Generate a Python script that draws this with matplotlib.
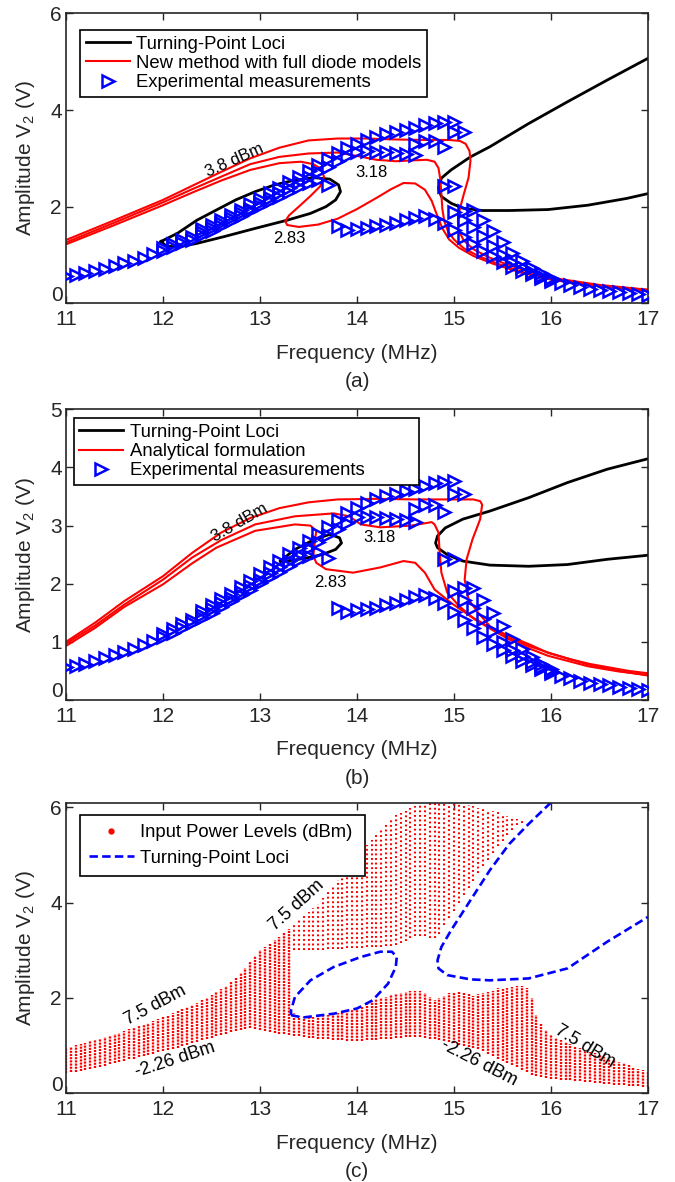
import numpy as np
import matplotlib
matplotlib.use("Agg")
import matplotlib.pyplot as plt
from matplotlib.lines import Line2D

plt.rcParams["font.family"] = ["Liberation Sans", "DejaVu Sans"]
plt.rcParams["mathtext.fontset"] = "custom"
plt.rcParams["mathtext.rm"] = "Liberation Sans"
plt.rcParams["mathtext.default"] = "regular"

RED = "#ff0000"
BLUE = "#0000ff"
INK = "#262626"

# ---- experimental measurements (shared by (a) and (b)), 0.1 MHz sweep grid ----
exp_a_f = np.round(np.arange(11.0, 13.75, 0.1), 2)
exp_a_v = [0.56, 0.58, 0.62, 0.67, 0.72, 0.77, 0.83, 0.88, 0.94, 1.01, 1.09, 1.16, 1.24, 1.32,
           1.41, 1.50, 1.60, 1.70, 1.80, 1.90, 2.01, 2.11, 2.21, 2.31, 2.40, 2.48, 2.55, 2.45]
exp_b_f = np.round(np.arange(12.0, 14.65, 0.1), 2)
exp_b_v = [1.14, 1.22, 1.30, 1.38, 1.47, 1.56, 1.66, 1.76, 1.86, 1.96, 2.07, 2.18, 2.29, 2.39,
           2.50, 2.61, 2.72, 2.83, 2.94, 3.04, 3.14, 3.15, 3.14, 3.13, 3.11, 3.09, 3.06]
exp_c_f = np.round(np.arange(12.4, 15.05, 0.1), 2)
exp_c_v = [1.53, 1.63, 1.73, 1.83, 1.94, 2.05, 2.16, 2.28, 2.39, 2.51, 2.62, 2.74, 2.86, 2.98,
           3.10, 3.21, 3.30, 3.38, 3.45, 3.51, 3.55, 3.59, 3.63, 3.68, 3.73, 3.75, 3.76]
exp_d_f = [14.6, 14.7, 14.8, 14.9, 15.0, 15.1, 14.9, 15.0]
exp_d_v = [3.29, 3.35, 3.36, 3.24, 3.55, 3.55, 2.42, 2.42]
exp_e_f = np.round(np.arange(13.8, 17.05, 0.1), 2)
exp_e_v = [1.59, 1.52, 1.54, 1.56, 1.59, 1.63, 1.67, 1.72, 1.77, 1.80, 1.75, 1.66, 1.52, 1.38,
           1.23, 1.09, 0.97, 0.86, 0.76, 0.67, 0.60, 0.53, 0.47, 0.42, 0.37, 0.33, 0.30, 0.27,
           0.25, 0.23, 0.21, 0.19, 0.18]
exp_g_f = np.round(np.arange(15.0, 16.05, 0.1), 2)
exp_g_v = [1.88, 1.92, 1.93, 1.72, 1.50, 1.27, 1.05, 0.88, 0.74, 0.62, 0.53]
exp_h_f = np.round(np.arange(15.1, 16.05, 0.1), 2)
exp_h_v = [1.72, 1.58, 1.40, 1.18, 1.00, 0.86, 0.75, 0.65, 0.57, 0.50]

# ---- (a) new method with full diode models ----
a_red38_f = [11.0, 11.5, 12.0, 12.3, 12.6, 12.9, 13.2, 13.5, 13.8, 14.1, 14.4, 14.7, 14.95, 15.06,
             15.12, 15.16, 15.17, 15.15, 15.1, 15.06, 15.04, 15.05, 15.1, 15.2, 15.35, 15.55, 15.8,
             16.1, 16.5, 17.0]
a_red38_v = [1.31, 1.72, 2.14, 2.43, 2.72, 3.0, 3.22, 3.37, 3.41, 3.41, 3.39, 3.38, 3.38, 3.36,
             3.3, 3.15, 2.95, 2.6, 2.25, 1.95, 1.7, 1.5, 1.3, 1.12, 0.96, 0.8, 0.64, 0.5, 0.38, 0.28]
a_red318_f = [11.0, 11.5, 12.0, 12.3, 12.6, 12.9, 13.2, 13.5, 13.8, 14.0, 14.2, 14.4, 14.6, 14.72,
              14.8, 14.84, 14.86, 14.87, 14.88, 14.9, 14.94, 15.0, 15.1, 15.25, 15.45, 15.7, 16.0,
              16.4, 16.8, 17.0]
a_red318_v = [1.26, 1.67, 2.09, 2.36, 2.62, 2.88, 3.03, 3.10, 3.12, 3.05, 2.97, 2.94, 2.96, 2.97,
              2.93, 2.8, 2.55, 2.25, 1.95, 1.7, 1.48, 1.32, 1.14, 0.98, 0.82, 0.65, 0.5, 0.38,
              0.31, 0.28]
a_red283_f = [11.0, 11.5, 12.0, 12.3, 12.6, 12.9, 13.2, 13.42, 13.55, 13.63, 13.66, 13.62, 13.52,
              13.4, 13.3, 13.26, 13.28, 13.4, 13.6, 13.8, 14.0, 14.2, 14.35, 14.48, 14.6, 14.7,
              14.77, 14.82, 14.88, 14.95, 15.05, 15.2, 15.4, 15.7, 16.0, 16.4, 16.8, 17.0]
a_red283_v = [1.22, 1.62, 2.03, 2.29, 2.54, 2.76, 2.9, 2.93, 2.88, 2.78, 2.62, 2.42, 2.22, 2.0,
              1.82, 1.7, 1.62, 1.58, 1.63, 1.75, 1.95, 2.18, 2.36, 2.49, 2.48, 2.35, 2.12, 1.85,
              1.55, 1.32, 1.15, 0.98, 0.82, 0.63, 0.49, 0.37, 0.3, 0.26]
a_loop_f = [11.98, 12.15, 12.35, 12.55, 12.75, 12.95, 13.15, 13.36, 13.56, 13.72, 13.81, 13.83,
            13.78, 13.68, 13.52, 13.28, 12.95, 12.63, 12.35, 12.15, 12.03, 11.98]
a_loop_v = [1.28, 1.45, 1.72, 1.93, 2.14, 2.31, 2.45, 2.55, 2.60, 2.57, 2.45, 2.31, 2.14, 2.00,
            1.86, 1.72, 1.55, 1.38, 1.24, 1.16, 1.19, 1.28]
a_fold_f = [17.0, 16.58, 16.17, 15.77, 15.37, 15.17, 14.97, 14.87, 14.84, 14.87, 14.97, 15.09,
            15.29, 15.57, 15.97, 16.38, 16.78, 17.0]
a_fold_v = [5.07, 4.62, 4.17, 3.72, 3.24, 3.03, 2.76, 2.59, 2.38, 2.21, 2.07, 1.97, 1.92, 1.92,
            1.94, 2.03, 2.17, 2.27]

# ---- (b) analytical formulation ----
b_red38_f = [11.0, 11.3, 11.6, 12.0, 12.3, 12.6, 12.9, 13.2, 13.5, 13.8, 14.2, 14.6, 15.0, 15.2,
             15.27, 15.29, 15.27, 15.19, 15.13, 15.11, 15.15, 15.25, 15.37, 15.55, 15.77, 16.0,
             16.2, 16.4, 16.6, 16.8, 17.0]
b_red38_v = [1.0, 1.33, 1.7, 2.13, 2.53, 2.88, 3.13, 3.3, 3.4, 3.45, 3.46, 3.45, 3.45, 3.45, 3.42,
             3.36, 3.11, 2.76, 2.42, 2.07, 1.73, 1.5, 1.27, 1.08, 0.93, 0.8, 0.7, 0.62, 0.56, 0.5,
             0.46]
b_red318_f = [11.0, 11.3, 11.6, 12.0, 12.3, 12.6, 12.95, 13.36, 13.76, 13.92, 14.04, 14.24, 14.56,
              14.77, 14.8, 14.84, 14.85, 14.87, 14.93, 15.05, 15.21, 15.4, 15.57, 15.8, 15.97,
              16.2, 16.38, 16.7, 17.0]
b_red318_v = [0.97, 1.28, 1.64, 2.07, 2.45, 2.75, 3.02, 3.16, 3.21, 3.16, 3.02, 2.97, 3.0, 3.06,
              3.02, 2.88, 2.59, 2.19, 1.85, 1.62, 1.39, 1.2, 1.04, 0.87, 0.76, 0.66, 0.58, 0.49,
              0.43]
b_red283_f = [11.0, 11.3, 11.6, 12.0, 12.3, 12.55, 12.95, 13.36, 13.52, 13.58, 13.56, 13.55, 13.58,
              13.68, 13.96, 14.24, 14.48, 14.6, 14.7, 14.8, 14.97, 15.17, 15.35, 15.57, 15.8,
              15.97, 16.2, 16.38, 16.7, 17.0]
b_red283_v = [0.93, 1.24, 1.6, 1.99, 2.35, 2.62, 2.91, 3.02, 3.0, 2.91, 2.65, 2.48, 2.36, 2.25,
              2.19, 2.28, 2.39, 2.36, 2.19, 1.9, 1.67, 1.44, 1.27, 1.1, 0.94, 0.81, 0.7, 0.61,
              0.5, 0.42]
b_loop_f = [13.21, 13.36, 13.56, 13.72, 13.82, 13.84, 13.78, 13.64, 13.44, 13.28, 13.21]
b_loop_v = [2.39, 2.59, 2.76, 2.85, 2.79, 2.70, 2.59, 2.50, 2.43, 2.39, 2.39]
b_fold_f = [17.0, 16.58, 16.17, 15.77, 15.37, 15.09, 14.91, 14.83, 14.81, 14.83, 14.93, 15.09,
            15.37, 15.77, 16.17, 16.58, 17.0]
b_fold_v = [4.15, 3.97, 3.74, 3.48, 3.25, 3.11, 2.96, 2.82, 2.70, 2.62, 2.50, 2.39, 2.32, 2.30,
            2.33, 2.42, 2.49]

# ---- (c) input power sweep -2.26 .. 7.5 dBm, 0.05 MHz columns ----
c_freq = np.round(np.linspace(11.0, 17.0, 121), 2)
c_low_bottom = [
    0.42, 0.44, 0.45, 0.47, 0.49, 0.51, 0.53, 0.56, 0.58, 0.61, 0.63, 0.66, 0.68, 0.71, 0.73,
    0.76, 0.78, 0.81, 0.83, 0.86, 0.88, 0.91, 0.93, 0.96, 0.99, 1.02, 1.05, 1.08, 1.11, 1.14,
    1.17, 1.20, 1.22, 1.25, 1.28, 1.31, 1.33, 1.35, 1.36, 1.35, 1.33, 1.31, 1.29, 1.27, 1.25,
    1.24, 1.22, 1.21, 1.20, 1.18, 1.17, 1.16, 1.15, 1.14, 1.13, 1.12, 1.11, 1.11, 1.10, 1.10,
    1.10, 1.10, 1.11, 1.11, 1.12, 1.13, 1.14, 1.15, 1.16, 1.17, 1.18, 1.18, 1.18, 1.18, 1.17,
    1.15, 1.13, 1.11, 1.09, 1.07, 1.05, 1.02, 0.99, 0.97, 0.95, 0.92, 0.89, 0.83, 0.78, 0.72,
    0.67, 0.63, 0.59, 0.55, 0.50, 0.45, 0.39, 0.36, 0.34, 0.32, 0.31, 0.30, 0.29, 0.28, 0.27,
    0.26, 0.25, 0.24, 0.23, 0.22, 0.21, 0.20, 0.19, 0.18, 0.17, 0.17, 0.16, 0.15, 0.15, 0.14,
    0.13]
c_low_top = [
    0.95, 0.98, 1.01, 1.04, 1.06, 1.09, 1.12, 1.15, 1.18, 1.21, 1.24, 1.27, 1.31, 1.34, 1.37,
    1.41, 1.44, 1.48, 1.52, 1.56, 1.60, 1.64, 1.68, 1.72, 1.76, 1.81, 1.85, 1.90, 1.95, 2.00,
    2.06, 2.12, 2.18, 2.25, 2.33, 2.42, 2.52, 2.63, 2.75, 2.88, 3.00, 3.07, 3.14, 3.21, 3.28,
    3.36, 3.45, 1.68, 1.62, 1.60, 1.60, 1.61, 1.62, 1.63, 1.65, 1.67, 1.69, 1.72, 1.74, 1.76,
    1.78, 1.82, 1.87, 1.93, 1.97, 2.00, 2.03, 2.06, 2.08, 2.10, 2.12, 2.14, 2.15, 2.14, 2.10,
    2.02, 1.95, 2.00, 2.05, 2.10, 2.10, 2.12, 2.10, 2.08, 2.05, 2.08, 2.10, 2.12, 2.15, 2.20,
    2.18, 2.20, 2.22, 2.25, 2.25, 2.20, 2.00, 1.65, 1.45, 1.32, 1.22, 1.17, 1.12, 1.07, 1.03,
    0.99, 0.95, 0.91, 0.87, 0.84, 0.80, 0.77, 0.73, 0.70, 0.66, 0.63, 0.60, 0.56, 0.52, 0.48,
    0.44]
c_up_freq = np.round(np.linspace(13.35, 15.75, 49), 2)
c_up_bottom = [
    3.00, 3.00, 3.00, 3.00, 3.00, 3.01, 3.01, 3.02, 3.02, 3.03, 3.03, 3.04, 3.04, 3.05, 3.05,
    3.06, 3.06, 3.07, 3.07, 3.08, 3.08, 3.12, 3.15, 3.20, 3.25, 3.30, 3.30, 3.30, 3.25, 3.25,
    3.35, 3.52, 3.67, 3.83, 3.99, 4.15, 4.30, 4.46, 4.62, 4.76, 4.90, 5.04, 5.18, 5.30, 5.41,
    5.52, 5.62, 5.66, 5.68]
c_up_top = [
    3.54, 3.63, 3.71, 3.80, 3.89, 3.98, 4.10, 4.22, 4.35, 4.47, 4.59, 4.71, 4.83, 4.95, 5.08,
    5.20, 5.32, 5.44, 5.55, 5.65, 5.74, 5.83, 5.88, 5.93, 5.98, 6.02, 6.05, 6.07, 6.09, 6.10,
    6.10, 6.10, 6.10, 6.09, 6.08, 6.06, 6.04, 6.02, 5.99, 5.97, 5.94, 5.92, 5.89, 5.86, 5.82,
    5.79, 5.75, 5.72, 5.69]
c_loop_f = [13.32, 13.44, 13.76, 14.0, 14.16, 14.32, 14.4, 14.41, 14.36, 14.24, 14.04, 13.76,
            13.52, 13.36, 13.32, 13.32]
c_loop_v = [1.64, 1.59, 1.67, 1.78, 1.95, 2.30, 2.65, 2.86, 2.97, 2.97, 2.86, 2.65, 2.37, 2.02,
            1.74, 1.64]
c_fold_f = [16.0, 15.77, 15.57, 15.37, 15.17, 14.97, 14.87, 14.83, 14.84, 14.93, 15.17, 15.37,
            15.77, 16.17, 16.58, 17.0]
c_fold_v = [6.10, 5.65, 5.23, 4.68, 4.05, 3.42, 3.07, 2.79, 2.62, 2.48, 2.39, 2.37, 2.41, 2.62,
            3.18, 3.70]

AX_L, AX_W = 66 / 675, 582 / 675


def style(ax, ymax, yticks, tag):
    ax.set_xlim(11, 17)
    ax.set_ylim(0, ymax)
    ax.set_xticks(range(11, 18))
    ax.set_yticks(yticks)
    # MATLAB lifts the bottom "0" off the corner; do the same by hand
    ax.set_yticklabels([""] + [str(t) for t in yticks[1:]])
    ax.annotate("0", xy=(0, 0), xycoords="axes fraction", xytext=(-3, 8),
                textcoords="offset pixels", ha="right", va="center", fontsize=15, color=INK)
    ax.tick_params(direction="in", top=True, right=True, length=5, width=1,
                   labelsize=15, colors=INK)
    ax.tick_params(axis="x", pad=5)
    ax.tick_params(axis="y", pad=3)
    for s in ax.spines.values():
        s.set_linewidth(1.2)
        s.set_color(INK)
    ax.text(0.5, -0.172, "Frequency (MHz)", transform=ax.transAxes,
            ha="center", va="center", fontsize=15, color=INK)
    ax.text(0.5, -0.269, tag, transform=ax.transAxes,
            ha="center", va="center", fontsize=15, color=INK)
    ax.text(-0.0704, 0.5, "Amplitude V$_2$ (V)", transform=ax.transAxes, rotation=90,
            ha="center", va="center", fontsize=15, color=INK)


def boxed_legend(ax, handles, labels, x0, y1, width, spacing=0.12, pad=0.3):
    leg = ax.legend(handles, labels, loc="upper left", bbox_to_anchor=(x0, y1, width, 0),
                    mode="expand", borderaxespad=0, fontsize=13.3, fancybox=False,
                    edgecolor="black", framealpha=1, handlelength=2.4, handletextpad=0.35,
                    borderpad=pad, labelspacing=spacing, numpoints=1)
    leg.get_frame().set_linewidth(1.2)


def draw_measured(ax):
    kw = dict(ls="none", marker=">", ms=8.3, mfc="none", mec=BLUE, mew=1.8, zorder=4)
    h = None
    for f, v in [(exp_a_f, exp_a_v), (exp_b_f, exp_b_v), (exp_c_f, exp_c_v),
                 (exp_d_f, exp_d_v), (exp_e_f, exp_e_v), (exp_g_f, exp_g_v),
                 (exp_h_f, exp_h_v)]:
        h, = ax.plot(f, v, **kw)
    return h


fig = plt.figure(figsize=(6.75, 11.82), dpi=100)

# (a)
ax = fig.add_axes([AX_L, 0.7434, AX_W, 0.2453])
hk, = ax.plot(a_loop_f, a_loop_v, color="black", lw=2.0)
ax.plot(a_fold_f, a_fold_v, color="black", lw=2.0)
for f, v in [(a_red38_f, a_red38_v), (a_red318_f, a_red318_v), (a_red283_f, a_red283_v)]:
    hr, = ax.plot(f, v, color=RED, lw=1.5)
hb = draw_measured(ax)
ax.text(12.74, 2.95, "3.8 dBm", rotation=24, ha="center", va="center", fontsize=12)
ax.text(14.15, 2.71, "3.18", ha="center", va="center", fontsize=12)
ax.text(13.3, 1.34, "2.83", ha="center", va="center", fontsize=12)
style(ax, 6, [0, 2, 4, 6], "(a)")
boxed_legend(ax, [hk, hr, hb],
             ["Turning-Point Loci", "New method with full diode models",
              "Experimental measurements"], 0.024, 0.942, 0.596)

# (b)
ax = fig.add_axes([AX_L, 0.4078, AX_W, 0.2459])
hk, = ax.plot(b_loop_f, b_loop_v, color="black", lw=2.0)
ax.plot(b_fold_f, b_fold_v, color="black", lw=2.0)
for f, v in [(b_red38_f, b_red38_v), (b_red318_f, b_red318_v), (b_red283_f, b_red283_v)]:
    hr, = ax.plot(f, v, color=RED, lw=1.5)
hb = draw_measured(ax)
ax.text(12.79, 3.05, "3.8 dBm", rotation=30, ha="center", va="center", fontsize=12)
ax.text(14.23, 2.8, "3.18", ha="center", va="center", fontsize=12)
ax.text(13.73, 2.02, "2.83", ha="center", va="center", fontsize=12)
style(ax, 5, [0, 1, 2, 3, 4, 5], "(b)")
boxed_legend(ax, [hk, hr, hb],
             ["Turning-Point Loci", "Analytical formulation", "Experimental measurements"],
             0.013, 0.969, 0.593)

# (c)
ax = fig.add_axes([AX_L, 0.0750, AX_W, 0.2453])
ax.vlines(c_freq, c_low_bottom, c_low_top, colors=RED, linewidth=1.7,
          linestyles=[(0, (0.9, 0.45))])
ax.vlines(c_up_freq, c_up_bottom, c_up_top, colors=RED, linewidth=1.5,
          linestyles=[(0, (0.9, 1.3))])
dash_kw = dict(color=BLUE, lw=1.9, dashes=(3.2, 1.6))
ax.plot(c_loop_f, c_loop_v, **dash_kw)
hd, = ax.plot(c_fold_f, c_fold_v, **dash_kw)
hp = Line2D([], [], ls="none", marker=".", color=RED, ms=7)
ax.text(13.38, 3.95, "7.5 dBm", rotation=42, ha="center", va="center", fontsize=13)
ax.text(11.92, 1.85, "7.5 dBm", rotation=28, ha="center", va="center", fontsize=13)
ax.text(12.12, 0.70, "-2.26 dBm", rotation=18, ha="center", va="center", fontsize=13)
ax.text(15.26, 0.63, "-2.26 dBm", rotation=-27, ha="center", va="center", fontsize=13)
ax.text(16.35, 0.98, "7.5 dBm", rotation=-31, ha="center", va="center", fontsize=13)
style(ax, 6.08, [0, 2, 4, 6], "(c)")
boxed_legend(ax, [hp, hd], ["Input Power Levels (dBm)", "Turning-Point Loci"],
             0.024, 0.96, 0.49, spacing=0.45, pad=0.5)

fig.savefig("out.png", dpi=100)
